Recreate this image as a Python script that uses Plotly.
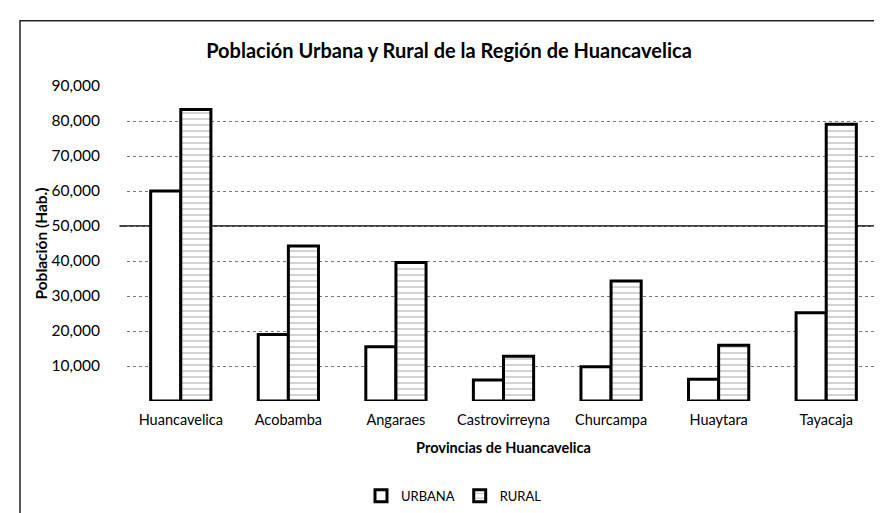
import plotly.graph_objects as go

# Provincias y población (Hab.)
provincias = ['Huancavelica', 'Acobamba', 'Angaraes', 'Castrovirreyna',
              'Churcampa', 'Huaytara', 'Tayacaja']
urbana = [60000, 19000, 15500, 6000, 9800, 6200, 25200]
rural = [83300, 44300, 39600, 12800, 34300, 15900, 79100]

y_ticks = [10000, 20000, 30000, 40000, 50000, 60000, 70000, 80000, 90000]
y_tick_labels = ['10,000', '20,000', '30,000', '40,000', '50,000',
                 '60,000', '70,000', '80,000', '90,000']

font_family = 'Lato, Open Sans, sans-serif'

trace_urbana = go.Bar(
    x=provincias,
    y=urbana,
    name='URBANA',
    marker=dict(color='white', line=dict(color='black', width=3))
)

trace_rural = go.Bar(
    x=provincias,
    y=rural,
    name='RURAL',
    marker=dict(
        color='white',
        line=dict(color='black', width=3),
        pattern=dict(shape='-', fgcolor='#8a8a8a', bgcolor='white',
                     size=6, solidity=0.25)
    )
)

layout = go.Layout(
    width=882,
    height=513,
    paper_bgcolor='white',
    plot_bgcolor='white',
    margin=dict(l=119, r=10, t=78, b=116),
    font=dict(family=font_family, color='black', size=14),
    title=dict(
        text='<b>Población Urbana y Rural de la Región de Huancavelica</b>',
        x=0.5, xref='container', xanchor='center',
        y=1 - 43 / 513, yanchor='middle',
        font=dict(size=20, family=font_family, color='black')
    ),
    barmode='group',
    bargap=0.44,
    bargroupgap=0,
    xaxis=dict(
        title=dict(text='<b>Provincias de Huancavelica</b>', standoff=16,
                   font=dict(size=14.5)),
        showgrid=False,
        showline=False,
        ticks='',
        ticklabelstandoff=8,
        tickfont=dict(size=14.5)
    ),
    yaxis=dict(
        title=dict(text='<b>Población (Hab.)</b>', standoff=0,
                   font=dict(size=15.5)),
        range=[0, 90000],
        tickvals=y_ticks,
        ticktext=y_tick_labels,
        showgrid=True,
        gridcolor='#777777',
        griddash='dot',
        gridwidth=1,
        zeroline=False,
        showline=False,
        ticks='',
        ticklabelstandoff=26,
        tickfont=dict(size=15.5)
    ),
    legend=dict(
        orientation='h',
        x=(446 - 119) / 753, xanchor='center',
        y=-(493 - 397) / 319, yanchor='middle',
        font=dict(size=13),
        itemwidth=30
    ),
    shapes=[
        # linea marcada en 50,000
        dict(type='line', xref='paper', yref='y', x0=-0.01, x1=1.0,
             y0=50000, y1=50000, line=dict(color='black', width=1.5),
             layer='below'),
        # marco del grafico
        dict(type='rect', xref='paper', yref='paper',
             x0=(12 - 119) / 753, x1=(895 - 119) / 753,
             y0=-(530 - 397) / 319, y1=1 + (78 - 12) / 319,
             line=dict(color='#222222', width=1.5))
    ]
)

fig = go.Figure(data=[trace_urbana, trace_rural], layout=layout)
fig.write_html('out.html')
